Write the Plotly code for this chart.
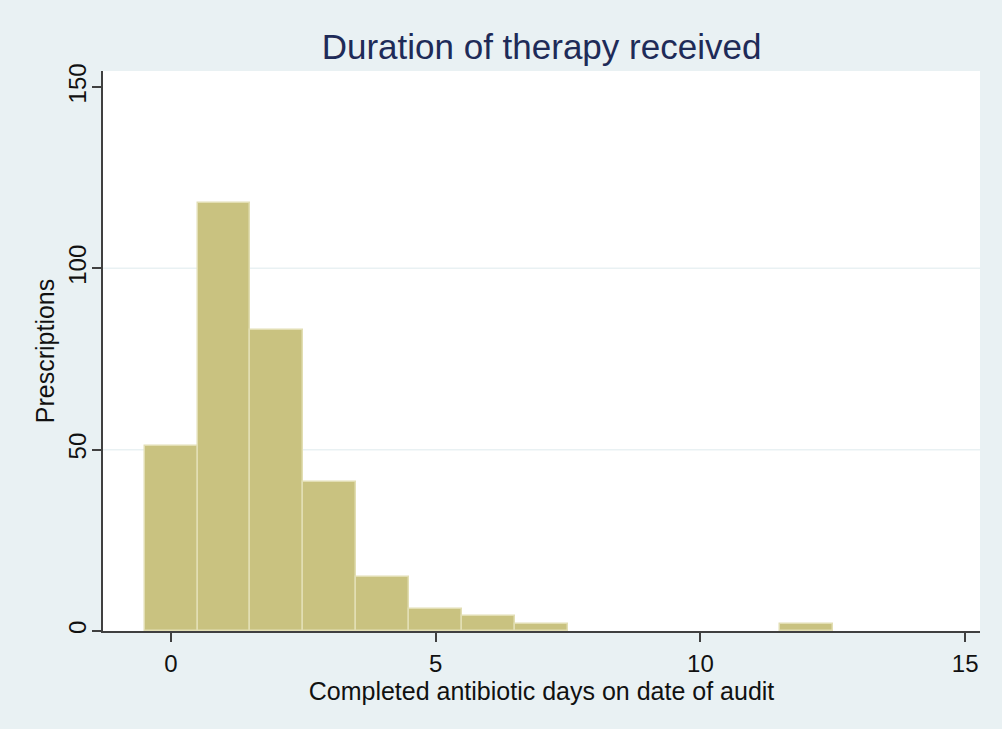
import plotly.graph_objects as go

# Completed antibiotic days (histogram bins of width 1, centred on whole days)
days = [0, 1, 2, 3, 4, 5, 6, 7, 12]
prescriptions = [51, 118, 83, 41, 15, 6, 4, 2, 2]

x_ticks = [0, 5, 10, 15]
y_ticks = [0, 50, 100, 150]
grid_values = [50, 100]

BG = "#E9F1F3"
BAR = "#C9C280"
BAR_EDGE = "#E2DEB3"
AXIS = "#404040"
TEXT = "#111111"
FONT = "Liberation Sans, Arial, Helvetica, sans-serif"

fig = go.Figure(
    go.Bar(
        x=days,
        y=prescriptions,
        width=1,
        marker=dict(color=BAR, line=dict(color=BAR_EDGE, width=1.5)),
        hovertemplate="%{x} days: %{y}<extra></extra>",
    )
)

for g in grid_values:
    fig.add_hline(y=g, line=dict(color=BG, width=1.5), layer="below")

fig.update_layout(
    width=1002,
    height=729,
    margin=dict(l=103, r=22, t=71, b=98),
    paper_bgcolor=BG,
    plot_bgcolor="white",
    showlegend=False,
    bargap=0,
    font=dict(family=FONT, color=TEXT),
    title=dict(
        text="Duration of therapy received",
        font=dict(size=35, color="#1E2B58", family=FONT),
        x=0.5,
        xref="paper",
        xanchor="center",
        y=1 - 47 / 729,
        yref="container",
        yanchor="middle",
    ),
    xaxis=dict(
        range=[-1.285, 15.28],
        tickvals=x_ticks,
        ticks="outside",
        ticklen=9,
        tickwidth=1.5,
        tickcolor=AXIS,
        showline=True,
        linecolor=AXIS,
        linewidth=1.5,
        showgrid=False,
        zeroline=False,
        tickfont=dict(size=24, color=TEXT),
        ticklabelstandoff=1,
        title=dict(
            text="Completed antibiotic days on date of audit",
            font=dict(size=25, color=TEXT),
            standoff=2,
        ),
    ),
    yaxis=dict(
        range=[0, 154.4],
        tickvals=y_ticks,
        ticks="outside",
        ticklen=9,
        tickwidth=1.5,
        tickcolor=AXIS,
        showline=True,
        linecolor=AXIS,
        linewidth=1.5,
        showgrid=False,
        zeroline=False,
        tickangle=-90,
        tickfont=dict(size=24, color=TEXT),
        ticklabelstandoff=-3,
        title=dict(
            text="Prescriptions",
            font=dict(size=25, color=TEXT),
            standoff=2,
        ),
    ),
)

fig.write_html("out.html")
